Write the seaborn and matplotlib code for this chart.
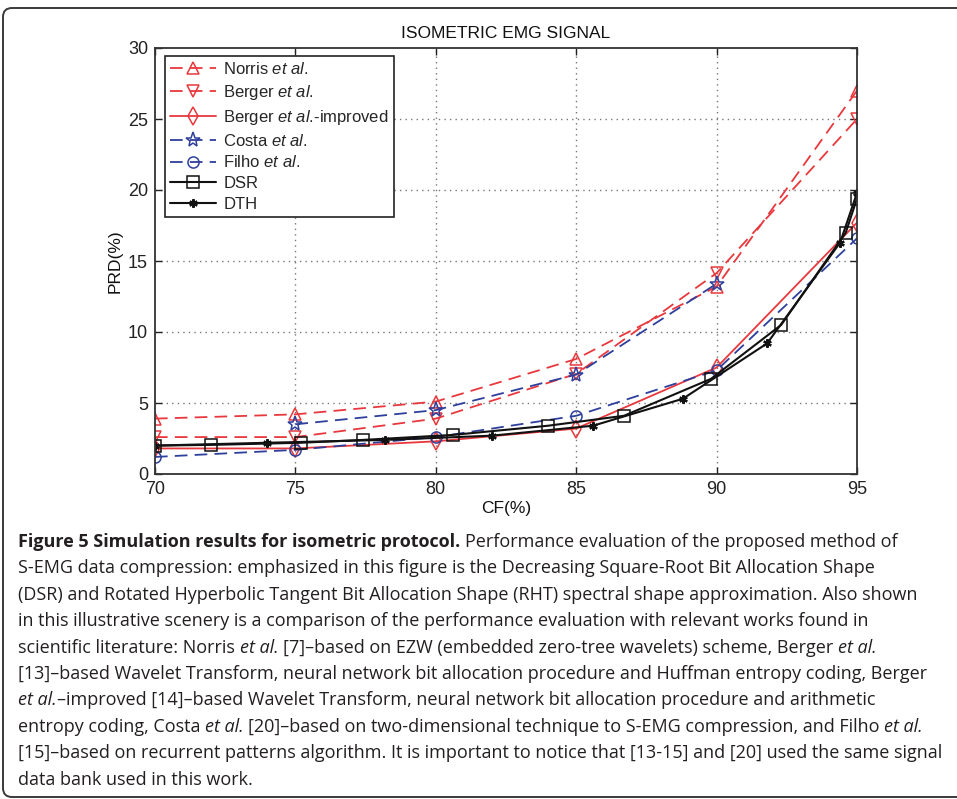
import matplotlib
matplotlib.use("Agg")
import matplotlib.pyplot as plt
import seaborn as sns
import pandas as pd
from matplotlib.patches import FancyBboxPatch

# PRD(%) values
cf_ref = [70, 75, 80, 85, 90, 95]
norris = [3.9, 4.2, 5.1, 8.1, 13.2, 27.0]
berger = [2.6, 2.6, 3.9, 7.05, 14.15, 25.0]
berger_imp = [1.8, 1.8, 2.3, 3.2, 7.5, 17.7]
cf_costa = [75, 80, 85, 90]
costa = [3.5, 4.5, 7.0, 13.4]
filho = [1.2, 1.7, 2.6, 4.1, 7.3, 16.6]
cf_dsr = [70, 72, 75.2, 77.4, 80.6, 84, 86.7, 89.8, 92.3, 94.6, 95]
dsr = [2.0, 2.05, 2.2, 2.4, 2.75, 3.4, 4.1, 6.7, 10.5, 17.0, 19.4]
cf_dth = [70, 74, 78.2, 82, 85.6, 88.8, 91.8, 94.4, 95]
dth = [2.0, 2.2, 2.4, 2.7, 3.4, 5.3, 9.2, 16.3, 19.8]

x_ticks = [70, 75, 80, 85, 90, 95]
y_ticks = [0, 5, 10, 15, 20, 25, 30]

sns.set_theme(style="white")
plt.rcParams['font.family'] = ['Liberation Sans', 'DejaVu Sans']
plt.rcParams['mathtext.fontset'] = 'custom'
plt.rcParams['mathtext.rm'] = 'Liberation Sans'
plt.rcParams['mathtext.it'] = 'Liberation Sans:italic'
plt.rcParams['xtick.direction'] = 'in'
plt.rcParams['ytick.direction'] = 'in'

RED = '#e8383d'
BLUE = '#2e3f9c'
BLK = '#111111'
dash = (7, 4)

W, H = 957, 799
fig = plt.figure(figsize=(W / 100, H / 100), dpi=100)
ax = fig.add_axes([155 / W, 1 - 474 / H, 702 / W, 426 / H])

series = [
    (cf_ref, norris, 'Norris $\\it{et\\ al}$.', RED, '^', dash, 9, 'none'),
    (cf_ref, berger, 'Berger $\\it{et\\ al}$.', RED, 'v', dash, 9, 'none'),
    (cf_ref, berger_imp, 'Berger $\\it{et\\ al}$.-improved', RED, 'd', '', 9, 'none'),
    (cf_costa, costa, 'Costa $\\it{et\\ al}$.', BLUE, '*', dash, 11, 'none'),
    (cf_ref, filho, 'Filho $\\it{et\\ al}$.', BLUE, 'o', dash, 8, 'none'),
    (cf_dsr, dsr, 'DSR', BLK, 's', '', 8, 'none'),
    (cf_dth, dth, 'DTH', BLK, (6, 2, 0), '', 6, BLK),
]

for xs, ys, lab, col, mk, ds, ms, fc in series:
    df = pd.DataFrame({'CF': xs, 'PRD': ys})
    sns.lineplot(data=df, x='CF', y='PRD', ax=ax, color=col, label=lab,
                 estimator=None, sort=False, lw=1.3 if col != BLK else 1.5,
                 marker=mk, markersize=ms, markerfacecolor=fc,
                 markeredgecolor=col, markeredgewidth=1.1 if fc == 'none' else 1.6)
    line = ax.lines[-1]
    if ds:
        line.set_dashes(ds)

ax.set_xlim(70, 95)
ax.set_ylim(0, 30)
ax.set_xticks(x_ticks)
ax.set_yticks(y_ticks)
ax.tick_params(labelsize=13, length=5, width=1, colors='#222222',
               top=True, right=True, bottom=True, left=True, pad=5)
for t in x_ticks[1:-1]:
    ax.axvline(t, color='#777777', lw=1, ls=(0, (1, 3)), zorder=0)
for t in y_ticks[1:-1]:
    ax.axhline(t, color='#777777', lw=1, ls=(0, (1, 3)), zorder=0)
for sp in ax.spines.values():
    sp.set_color('#333333')
    sp.set_linewidth(1.3)

ax.set_xlabel('CF(%)', fontsize=12.5, labelpad=2, color='#111111')
ax.set_ylabel('PRD(%)', fontsize=12.5, labelpad=4, color='#111111')
ax.set_title('ISOMETRIC EMG SIGNAL', fontsize=12.5, pad=7, color='#111111')

leg = ax.legend(loc='upper left', bbox_to_anchor=(0.014, 0.981), borderaxespad=0,
                fontsize=12, frameon=True, fancybox=False, edgecolor='#222222',
                framealpha=1, handlelength=2.8, handletextpad=0.4,
                labelspacing=0.35, borderpad=0.3)
leg.get_frame().set_linewidth(1.2)

# rounded border of the figure panel
fig.patches.append(FancyBboxPatch((3, 2), 1000, 789, boxstyle='round,pad=0,rounding_size=9',
                                  transform=None, fill=False, ec='#3a3a3a', lw=1.4))

# caption
caption = [
    [('Figure 5 Simulation results for isometric protocol.', 'b'),
     (' Performance evaluation of the proposed method of', 'n')],
    [('S-EMG data compression: emphasized in this figure is the Decreasing Square-Root Bit Allocation Shape', 'n')],
    [('(DSR) and Rotated Hyperbolic Tangent Bit Allocation Shape (RHT) spectral shape approximation. Also shown', 'n')],
    [('in this illustrative scenery is a comparison of the performance evaluation with relevant works found in', 'n')],
    [('scientific literature: Norris ', 'n'), ('et al.', 'i'),
     (' [7]–based on EZW (embedded zero-tree wavelets) scheme, Berger ', 'n'), ('et al.', 'i')],
    [('[13]–based Wavelet Transform, neural network bit allocation procedure and Huffman entropy coding, Berger', 'n')],
    [('et al.', 'i'), ('–improved [14]–based Wavelet Transform, neural network bit allocation procedure and arithmetic', 'n')],
    [('entropy coding, Costa ', 'n'), ('et al.', 'i'),
     (' [20]–based on two-dimensional technique to S-EMG compression, and Filho ', 'n'), ('et al.', 'i')],
    [('[15]–based on recurrent patterns algorithm. It is important to notice that [13-15] and [20] used the same signal', 'n')],
    [('data bank used in this work.', 'n')],
]

renderer = fig.canvas.get_renderer()
CAP_FONT = 'Open Sans'
X0 = 18.0


def seg_props(style, size):
    return dict(family=CAP_FONT, fontsize=size,
                fontweight='bold' if style == 'b' else 'normal',
                fontstyle='italic' if style == 'i' else 'normal',
                color='#231f20')


def text_w(s, style, size):
    if not s:
        return 0.0
    t = fig.text(0, 0, s, **seg_props(style, size))
    w = t.get_window_extent(renderer).width
    t.remove()
    return w


def space_w(style, size):
    return text_w('a a', style, size) - text_w('aa', style, size)


def layout(line, size, y, draw=True):
    x = X0
    for s, st in line:
        lead = len(s) - len(s.lstrip(' '))
        trail = len(s) - len(s.rstrip(' '))
        core = s.strip(' ')
        sw = space_w(st, size)
        x += lead * sw
        if draw:
            fig.text(x / W, 1 - y / H, core, va='baseline', ha='left', **seg_props(st, size))
        x += text_w(core, st, size)
        x += trail * sw
    return x


base = 11.0
widest = max(layout(line, base, 0, draw=False) for line in caption)
size = base * (950 - X0) / (widest - X0)
for i, line in enumerate(caption):
    layout(line, size, 547 + 26.4 * i)

fig.savefig('out.png', dpi=100)
